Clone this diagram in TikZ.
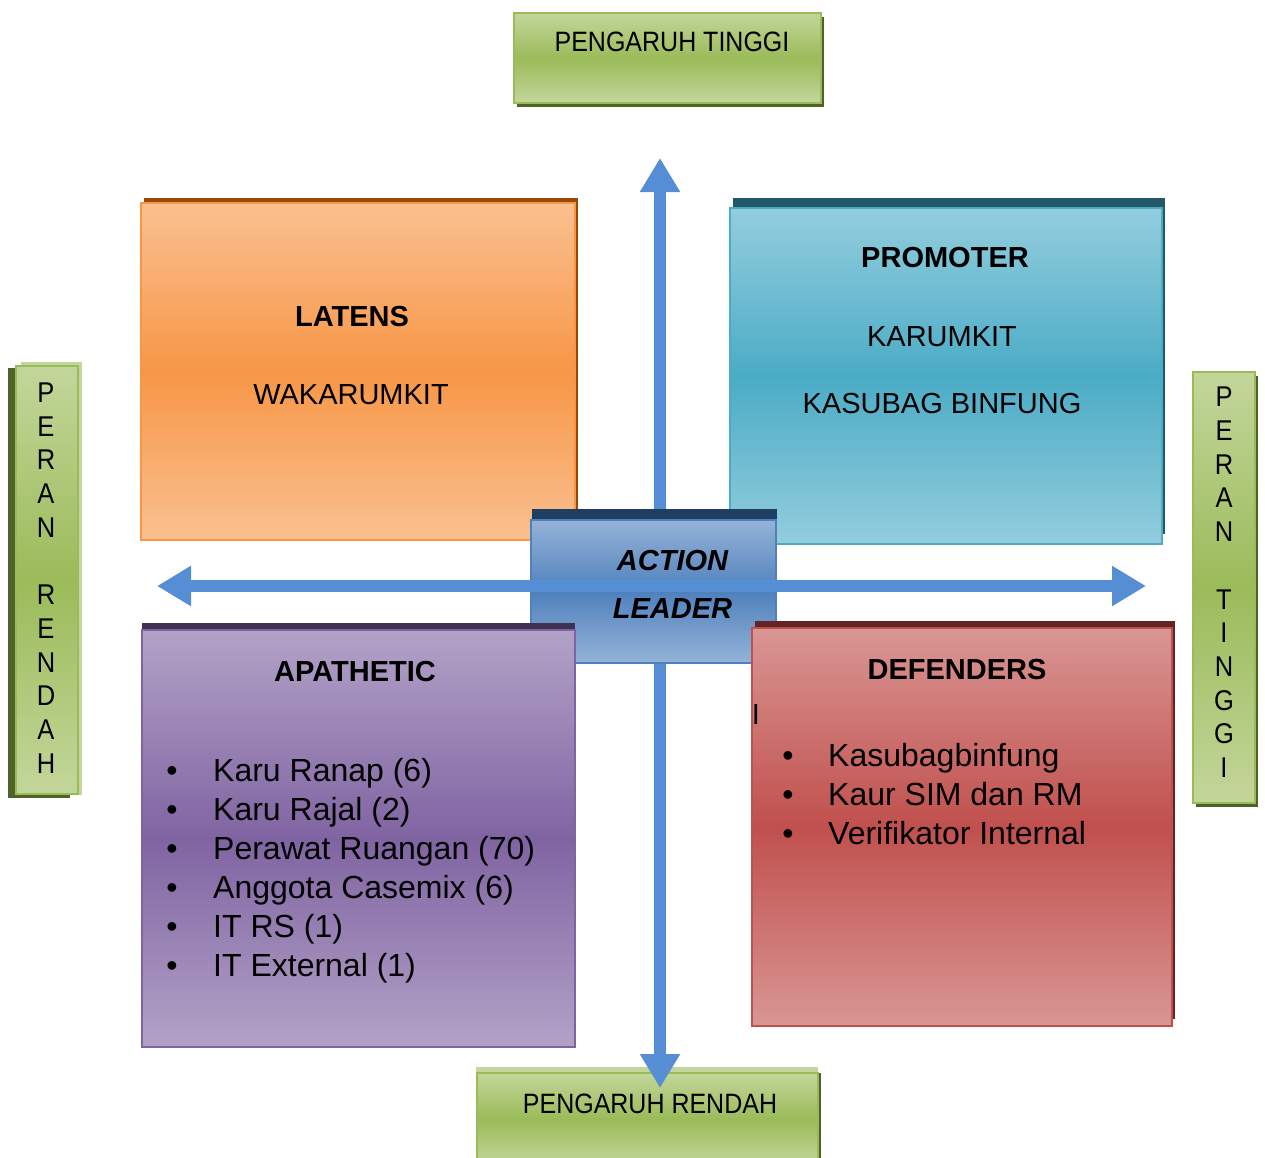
\documentclass[tikz,border=0pt]{standalone}
\usepackage{fontspec}
\setmainfont{Liberation Sans}
\usetikzlibrary{arrows.meta,shadows}
\definecolor{grL}{HTML}{C3D69B}\definecolor{grM}{HTML}{9BBB59}\definecolor{grB}{HTML}{9BBB59}\definecolor{grS}{HTML}{4F6228}
\definecolor{orL}{HTML}{FAC090}\definecolor{orM}{HTML}{F79646}\definecolor{orS}{HTML}{984807}
\definecolor{tlL}{HTML}{93CDDD}\definecolor{tlM}{HTML}{4BACC6}\definecolor{tlS}{HTML}{215968}
\definecolor{blL}{HTML}{95B3D7}\definecolor{blM}{HTML}{4F81BD}\definecolor{blS}{HTML}{1F3F60}
\definecolor{puL}{HTML}{B3A2C7}\definecolor{puM}{HTML}{8064A2}\definecolor{puS}{HTML}{3F3151}
\definecolor{rdL}{HTML}{D99694}\definecolor{rdM}{HTML}{C0504D}\definecolor{rdS}{HTML}{632523}
\definecolor{arrowblue}{HTML}{558ED5}
\begin{document}
\begin{tikzpicture}[x=1pt,y=-1pt,
  box/.style={rectangle, inner sep=0, line width=1.5pt},
  grad/.style n args={2}{top color=#1, bottom color=#1, middle color=#2},
  shad/.style n args={3}{drop shadow={shadow xshift=#1pt, shadow yshift=#2pt, fill=#3, opacity=1}},
  axis/.style={line width=12pt, draw=arrowblue, {Triangle[length=34pt,width=38pt]}-{Triangle[length=34pt,width=38pt]}},
  t29/.style={inner sep=0, font=\fontsize{29}{35}\selectfont},
  b29/.style={inner sep=0, font=\fontsize{29}{35}\selectfont\bfseries},
  bi29/.style={inner sep=0, font=\fontsize{29}{35}\selectfont\bfseries\itshape},
  l32/.style={inner sep=0, anchor=base west, font=\fontsize{32}{38}\selectfont},
  bul/.style={inner sep=0, anchor=base, font=\fontsize{32}{38}\selectfont},
  g25/.style={inner sep=0, font=\fontsize{25}{30}\selectfont},
  v26/.style={inner sep=0, font=\fontsize{25.5}{30.1}\selectfont}
]
\useasboundingbox (0,0) rectangle (1265,1157);

% green label boxes
\node[box, minimum width=307pt, minimum height=90pt, draw=grB, grad={grL}{grM}, shad={3}{-4}{grS}] (top) at (667.5,58) {};
\node[g25] (toptxt) at (672,42) {\scalebox{1}[1.12]{PENGARUH TINGGI}};

\fill[grL] (476,1067) rectangle (818,1160);
\node[box, minimum width=341pt, minimum height=92pt, draw=grB, grad={grL}{grM}, shad={3}{0}{grS}] (bot) at (647.5,1119) {};
\node[g25] (bottxt) at (650,1104) {\scalebox{1}[1.12]{PENGARUH RENDAH}};

\fill[grS] (8,368) rectangle (70,798);
\fill[grL] (21,362) rectangle (82,795);
\node[box, minimum width=62pt, minimum height=428pt, draw=grB, grad={grL}{grM}] (left) at (47,580) {};
\node[v26] (lefttxt) at (46,581) {\scalebox{1}[1.12]{\begin{tabular}{@{}c@{}}P\\E\\R\\A\\N\\ \\R\\E\\N\\D\\A\\H\end{tabular}}};

\node[box, minimum width=62pt, minimum height=431pt, draw=grB, grad={grL}{grM}, shad={3}{-4}{grS}] (right) at (1224,587.5) {};
\node[v26] (righttxt) at (1224,585.5) {\scalebox{1}[1.12]{\begin{tabular}{@{}c@{}}P\\E\\R\\A\\N\\ \\T\\I\\N\\G\\G\\I\end{tabular}}};

% vertical axis
\coordinate (vt) at (660,158);
\coordinate (vb) at (660,1088);
\draw[axis] (vt) -- (vb);

% LATENS
\node[box, minimum width=434pt, minimum height=337pt, draw=orM, grad={orL}{orM}, shad={3}{5}{orS}] (latens) at (358,371.5) {};
\node[b29] (latensT) at (352,317) {LATENS};
\node[t29] (latens1) at (351,395) {WAKARUMKIT};

% PROMOTER
\node[box, minimum width=432pt, minimum height=336pt, draw=tlM, grad={tlL}{tlM}, shad={3}{10}{tlS}] (prom) at (946,376) {};
\node[b29] (promT) at (945,258) {PROMOTER};
\node[t29] (prom1) at (942,337) {KARUMKIT};
\node[t29] (prom2) at (942,404) {KASUBAG BINFUNG};

% ACTION LEADER
\node[box, minimum width=245pt, minimum height=143pt, draw=blM, grad={blL}{blM}, shad={1}{11}{blS}] (action) at (653.5,591.5) {};

% horizontal axis
\coordinate (hl) at (157,586);
\coordinate (hr) at (1146,586);
\draw[axis] (hl) -- (hr);

\node[bi29] (act1) at (672.5,561) {ACTION};
\node[bi29] (act2) at (672.5,609) {LEADER};

% APATHETIC
\node[box, minimum width=433pt, minimum height=417pt, draw=puM, grad={puL}{puM}, shad={0}{7}{puS}] (apa) at (358.5,838.5) {};
\node[b29] (apaT) at (355,672) {APATHETIC};
\foreach \t [count=\i] in {Karu Ranap (6), Karu Rajal (2), Perawat Ruangan (70), Anggota Casemix (6), IT RS (1), IT External (1)} {
  \node[bul] (apb\i) at (172,{781+39*(\i-1)}) {•};
  \node[l32] (apl\i) at (213,{781+39*(\i-1)}) {\t};
}

% DEFENDERS
\node[box, minimum width=420pt, minimum height=398pt, draw=rdM, grad={rdL}{rdM}, shad={3}{7}{rdS}] (def) at (962,827) {};
\node[b29] (defT) at (957,670) {DEFENDERS};
\node[t29] (cursor) at (756,715) {I};
\foreach \t [count=\i] in {Kasubagbinfung, Kaur SIM dan RM, Verifikator Internal} {
  \node[bul] (dfb\i) at (788,{766+39*(\i-1)}) {•};
  \node[l32] (dfl\i) at (828,{766+39*(\i-1)}) {\t};
}
\end{tikzpicture}
\end{document}
